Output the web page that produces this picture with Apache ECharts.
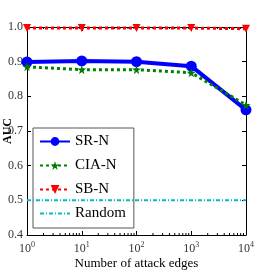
<!DOCTYPE html>
<html><head><meta charset="utf-8">
<script src="https://cdn.jsdelivr.net/npm/echarts@6/dist/echarts.min.js"></script>
<style>html,body{margin:0;padding:0;background:#fff}#c{width:274px;height:277px}</style>
</head><body><div id="c"></div>
<script>
const attackEdges = [1, 10, 100, 1000, 10000];
const srN = [0.899, 0.902, 0.900, 0.887, 0.761];
const ciaN = [0.885, 0.877, 0.877, 0.868, 0.775];
const sbN = [0.997, 0.997, 0.997, 0.997, 0.995];
const randomAUC = [0.5, 0.5, 0.5, 0.5, 0.5];
const yTicks = ['0.4','0.5','0.6','0.7','0.8','0.9','1.0'];
const decades = [1, 10, 100, 1000];

const FONT = 'Liberation Serif';
const zip = (xs, ys) => xs.map((x, i) => [x, ys[i]]);
const STAR = 'path://M50,0 L61,35 L98,35 L68,57 L79,91 L50,70 L21,91 L32,57 L2,35 L39,35 Z';

const chart = echarts.init(document.getElementById('c'));
const common = {
  axisLine: { show: true, lineStyle: { color: '#000', width: 1 } },
  splitLine: { show: false },
};
chart.setOption({
  animation: false,
  backgroundColor: '#fff',
  grid: { left: 27, right: 28, top: 27, bottom: 42, containLabel: false, outerBoundsMode: 'none' },
  xAxis: [
    Object.assign({
      type: 'log', logBase: 10, min: 1, max: 10000, position: 'bottom',
      axisTick: { inside: true, length: 4, lineStyle: { color: '#000' } },
      axisLabel: {
        color: '#333', fontFamily: FONT, fontSize: 12, margin: 6,
        formatter: v => '10{s|' + Math.round(Math.log10(v)) + '}',
        rich: { s: { fontSize: 8, fontFamily: FONT, color: '#333', verticalAlign: 'top', padding: [0, 0, 7, 0] } }
      },
      name: 'Number of attack edges', nameLocation: 'middle', nameGap: 22, nameMoveOverlap: false,
      nameTextStyle: { color: '#000', fontFamily: FONT, fontSize: 13 }
    }, common),
    Object.assign({
      type: 'log', logBase: 10, min: 1, max: 10000, position: 'top',
      axisTick: { inside: true, length: 4, lineStyle: { color: '#000' } },
      axisLabel: { show: false }
    }, common)
  ],
  yAxis: [
    Object.assign({
      type: 'value', min: 0.4, max: 1.0, interval: 0.1, position: 'left',
      axisTick: { inside: true, length: 4, lineStyle: { color: '#000' } },
      axisLabel: { color: '#333', fontFamily: FONT, fontSize: 12, margin: 4,
        formatter: v => yTicks[Math.round((v - 0.4) * 10)] },
      name: 'AUC', nameLocation: 'middle', nameGap: 13, nameRotate: 90, nameMoveOverlap: false,
      nameTextStyle: { color: '#000', fontFamily: FONT, fontSize: 12, fontWeight: 'bold' }
    }, common),
    Object.assign({
      type: 'value', min: 0.4, max: 1.0, interval: 0.1, position: 'right',
      axisTick: { inside: true, length: 4, lineStyle: { color: '#000' } },
      axisLabel: { show: false }
    }, common)
  ],
  legend: {
    orient: 'vertical', left: 33, top: 128,
    itemWidth: 30, itemHeight: 11, itemGap: 9,
    padding: [6, 8, 7, 6],
    backgroundColor: '#fff', borderColor: '#555', borderWidth: 1,
    textStyle: { fontFamily: FONT, fontSize: 15, color: '#000' },
    data: ['SR-N', 'CIA-N', 'SB-N', { name: 'Random', itemStyle: { opacity: 0 } }]
  },
  series: [
    {
      type: 'custom', silent: true, z: 1,
      data: decades,
      renderItem: (params, api) => {
        const d = api.value(0);
        const children = [];
        for (let k = 2; k <= 9; k++) {
          const bot = api.coord([d * k, 0.4]);
          const top = api.coord([d * k, 1.0]);
          children.push({ type: 'line', shape: { x1: bot[0], y1: bot[1], x2: bot[0], y2: bot[1] - 2 }, style: { stroke: '#000', lineWidth: 1 } });
          children.push({ type: 'line', shape: { x1: top[0], y1: top[1], x2: top[0], y2: top[1] + 2 }, style: { stroke: '#000', lineWidth: 1 } });
        }
        return { type: 'group', children };
      },
      encode: { x: 0 }
    },
    {
      name: 'SR-N', type: 'line', data: zip(attackEdges, srN), z: 3,
      symbol: 'circle', symbolSize: 11,
      itemStyle: { color: '#0000ff' },
      lineStyle: { color: '#0000ff', width: 4 }
    },
    {
      name: 'CIA-N', type: 'line', data: zip(attackEdges, ciaN), z: 4,
      symbol: STAR, symbolSize: 9,
      itemStyle: { color: '#007a00' },
      lineStyle: { color: '#008000', width: 3, type: [3, 3] }
    },
    {
      name: 'SB-N', type: 'line', data: zip(attackEdges, sbN), z: 5,
      symbol: 'triangle', symbolRotate: 180, symbolSize: 8,
      itemStyle: { color: '#ff0000' },
      lineStyle: { color: '#ff0000', width: 3, type: [3, 3] }
    },
    {
      name: 'Random', type: 'line', data: zip(attackEdges, randomAUC), z: 6,
      symbol: 'none',
      itemStyle: { color: '#00bfbf' },
      lineStyle: { color: '#00bfbf', width: 2, type: [4, 2, 1, 2] }
    }
  ]
});
</script></body></html>
